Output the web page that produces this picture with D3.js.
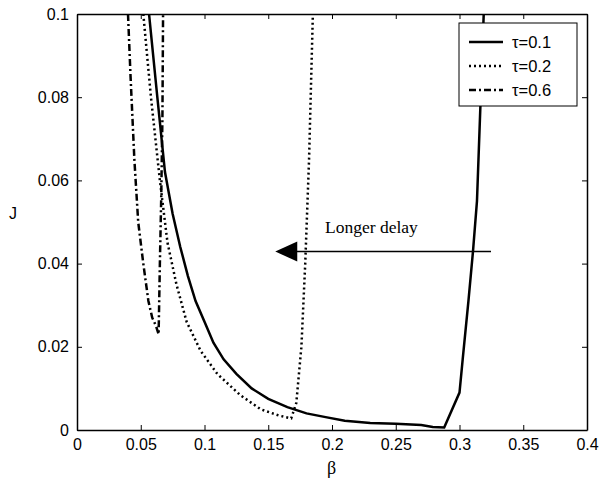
<!DOCTYPE html>
<html>
<head>
<meta charset="utf-8">
<script src="https://cdn.jsdelivr.net/npm/d3@7"></script>
<style>
  body { margin: 0; background: #fff; }
  svg { display: block; }
  .tick text { font-family: "Liberation Sans", Arial, sans-serif; font-size: 16px; fill: #000; }
</style>
</head>
<body>
<svg id="chart" width="600" height="487"></svg>
<script>
// values
const beta01 = [0.0565, 0.063, 0.069, 0.075, 0.081, 0.087, 0.093, 0.100, 0.107, 0.115, 0.125, 0.137, 0.150, 0.165, 0.180, 0.195, 0.210, 0.230, 0.250, 0.270, 0.279, 0.288, 0.300, 0.3025, 0.307, 0.3106, 0.3137, 0.319];
const j01    = [0.1, 0.08, 0.062, 0.052, 0.044, 0.037, 0.031, 0.026, 0.021, 0.017, 0.0135, 0.010, 0.0075, 0.0055, 0.004, 0.0031, 0.0022, 0.0017, 0.0015, 0.0012, 0.0007, 0.0006, 0.009, 0.017, 0.031, 0.043, 0.055, 0.1];

const beta02 = [0.052, 0.058, 0.065, 0.071, 0.078, 0.086, 0.097, 0.110, 0.128, 0.144, 0.158, 0.168, 0.172, 0.176, 0.179, 0.182, 0.185];
const j02    = [0.1, 0.08, 0.06, 0.045, 0.035, 0.026, 0.019, 0.0135, 0.0084, 0.005, 0.0035, 0.0028, 0.0065, 0.02, 0.04, 0.065, 0.1];

const beta06 = [0.040, 0.042, 0.045, 0.048, 0.052, 0.056, 0.059, 0.062, 0.064, 0.065, 0.066, 0.067, 0.0675];
const j06    = [0.1, 0.085, 0.065, 0.05, 0.04, 0.031, 0.027, 0.025, 0.023, 0.04, 0.055, 0.075, 0.1];

const xTicks = [0, 0.05, 0.1, 0.15, 0.2, 0.25, 0.3, 0.35, 0.4];
const yTicks = [0, 0.02, 0.04, 0.06, 0.08, 0.1];

const series = [
  { name: "\u03c4=0.1", b: beta01, j: j01, dash: null },
  { name: "\u03c4=0.2", b: beta02, j: j02, dash: "2,3" },
  { name: "\u03c4=0.6", b: beta06, j: j06, dash: "7,3,2,3" }
];

const svg = d3.select("#chart");
const mLeft = 77, mRight = 587, mTop = 14, mBottom = 430;

const x = d3.scaleLinear().domain([0, 0.4]).range([mLeft, mRight]);
const y = d3.scaleLinear().domain([0, 0.1]).range([mBottom, mTop]);

svg.append("defs").append("clipPath").attr("id", "clip")
  .append("rect").attr("x", mLeft).attr("y", mTop)
  .attr("width", mRight - mLeft).attr("height", mBottom - mTop);

const fmt = d => d === 0 ? "0" : String(+d.toFixed(2));

// axes with inward ticks, plus mirrored ones on top and right
svg.append("g").attr("transform", `translate(0,${mBottom})`)
  .call(d3.axisBottom(x).tickValues(xTicks).tickFormat(fmt).tickSizeInner(-5).tickSizeOuter(0).tickPadding(9));
svg.append("g").attr("transform", `translate(${mLeft},0)`)
  .call(d3.axisLeft(y).tickValues(yTicks).tickFormat(fmt).tickSizeInner(-5).tickSizeOuter(0).tickPadding(8));
svg.append("g").attr("transform", `translate(0,${mTop})`)
  .call(d3.axisTop(x).tickValues(xTicks).tickFormat("").tickSizeInner(-5).tickSizeOuter(0));
svg.append("g").attr("transform", `translate(${mRight},0)`)
  .call(d3.axisRight(y).tickValues(yTicks).tickFormat("").tickSizeInner(-5).tickSizeOuter(0));

svg.selectAll(".domain").attr("stroke", "#000").attr("stroke-width", 1.5);
svg.selectAll(".tick line").attr("stroke", "#000");

const line = d3.line().x(d => x(d[0])).y(d => y(d[1]));

svg.append("g").attr("clip-path", "url(#clip)")
  .selectAll("path").data(series).join("path")
  .attr("d", s => line(s.b.map((b, i) => [b, s.j[i]])))
  .attr("fill", "none")
  .attr("stroke", "#000")
  .attr("stroke-width", 2.5)
  .attr("stroke-dasharray", s => s.dash);

// legend
const lg = svg.append("g");
lg.append("rect").attr("x", 459).attr("y", 23).attr("width", 118).attr("height", 83)
  .attr("fill", "#fff").attr("stroke", "#000").attr("stroke-width", 1);
series.forEach((s, i) => {
  const yy = 42 + i * 24;
  lg.append("line").attr("x1", 469).attr("x2", 503).attr("y1", yy).attr("y2", yy)
    .attr("stroke", "#000").attr("stroke-width", 2.5).attr("stroke-dasharray", s.dash);
  lg.append("text").attr("x", 512).attr("y", yy + 6).text(s.name)
    .attr("font-family", "Liberation Sans, Arial, sans-serif").attr("font-size", 16.5);
});

// annotation arrow
const ay = y(0.0429);
svg.append("line").attr("x1", x(0.3247)).attr("x2", x(0.17)).attr("y1", ay).attr("y2", ay)
  .attr("stroke", "#000").attr("stroke-width", 1.5);
const ax = x(0.1555);
svg.append("path").attr("d", `M${ax},${ay} L${ax + 22},${ay - 10} L${ax + 22},${ay + 10} Z`).attr("fill", "#000");
svg.append("text").attr("x", 325).attr("y", 233).text("Longer delay")
  .attr("font-family", "Liberation Serif, Times New Roman, serif").attr("font-size", 17.5);

// axis labels
svg.append("text").attr("x", (mLeft + mRight) / 2 - 5).attr("y", 474).text("\u03b2")
  .attr("font-family", "Liberation Serif, serif").attr("font-size", 18);
svg.append("text").attr("x", 9).attr("y", 219).text("J")
  .attr("font-family", "Liberation Sans, Arial, sans-serif").attr("font-size", 16);
</script>
</body>
</html>
